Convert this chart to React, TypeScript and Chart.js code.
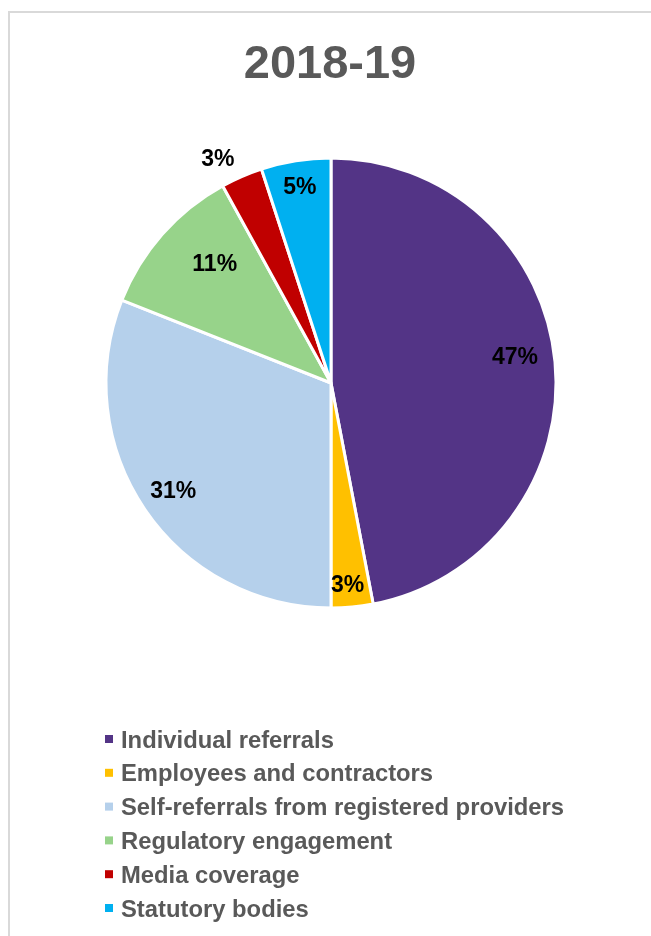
import React, { useEffect, useRef } from "react";
import { Chart, registerables } from "chart.js";

Chart.register(...registerables);

const title = "2018-19";
const categories = [
  "Individual referrals",
  "Employees and contractors",
  "Self-referrals from registered providers",
  "Regulatory engagement",
  "Media coverage",
  "Statutory bodies",
];
const values = [47, 3, 31, 11, 3, 5];
const valueLabels = ["47%", "3%", "31%", "11%", "3%", "5%"];
const colors = ["#533486", "#FFC000", "#B5D0EB", "#97D38A", "#C00000", "#00B0F0"];
// label placement style: radius factor and angle offset (degrees)
const labelRadius = [0.826, 0.9, 0.848, 0.74, 1.115, 0.883];
const labelAngleOffset = [-2.8, 0.7, 0, 4.3, -3.4, 0];

const GRAY = "#595959";

const decorPlugin = {
  id: "decor",
  afterDraw(chart: any) {
    const ctx = chart.ctx;
    ctx.save();
    // title
    ctx.fillStyle = GRAY;
    ctx.font = "bold 47px 'Liberation Sans', Arial, sans-serif";
    ctx.textAlign = "center";
    ctx.textBaseline = "alphabetic";
    ctx.fillText(title, 330, 78);

    // value labels
    const meta = chart.getDatasetMeta(0);
    ctx.font = "bold 23px 'Liberation Sans', Arial, sans-serif";
    ctx.fillStyle = "#000";
    ctx.textAlign = "center";
    ctx.textBaseline = "middle";
    meta.data.forEach((arc: any, i: number) => {
      const p = arc.getProps(["x", "y", "startAngle", "endAngle", "outerRadius"], true);
      const mid = (p.startAngle + p.endAngle) / 2 + (labelAngleOffset[i] * Math.PI) / 180;
      const r = p.outerRadius * labelRadius[i];
      ctx.fillText(valueLabels[i], p.x + Math.cos(mid) * r, p.y + Math.sin(mid) * r + 1);
    });

    // legend
    ctx.font = "bold 23.8px 'Liberation Sans', Arial, sans-serif";
    ctx.textAlign = "left";
    ctx.textBaseline = "alphabetic";
    categories.forEach((c, i) => {
      const base = 747.5 + i * 33.8;
      ctx.fillStyle = colors[i];
      ctx.fillRect(105, base - 12.5, 8, 8);
      ctx.fillStyle = GRAY;
      ctx.fillText(c, 121, base);
    });
    ctx.restore();
  },
};

export default function App() {
  const ref = useRef<HTMLCanvasElement>(null);
  useEffect(() => {
    if (!ref.current) return;
    const chart = new Chart(ref.current, {
      type: "pie",
      data: {
        labels: categories,
        datasets: [
          {
            data: values,
            backgroundColor: colors,
            borderColor: "#ffffff",
            borderWidth: 3,
          },
        ],
      },
      options: {
        responsive: false,
        animation: false,
        layout: { padding: { left: 104.5, right: 93.5, top: 156.5, bottom: 326.5 } },
        plugins: {
          legend: { display: false },
          title: { display: false },
          tooltip: { enabled: false },
        },
      },
      plugins: [decorPlugin],
    });
    return () => chart.destroy();
  }, []);

  return (
    <div style={{ position: "absolute", left: 0, top: 0, width: 651, height: 936, background: "#fff", overflow: "hidden" }}>
      <div
        style={{
          position: "absolute",
          left: 8,
          top: 11,
          width: 700,
          height: 1000,
          borderTop: "2px solid #D9D9D9",
          borderLeft: "2px solid #D9D9D9",
        }}
      />
      <canvas ref={ref} width={651} height={936} style={{ position: "absolute", left: 0, top: 0 }} />
    </div>
  );
}
